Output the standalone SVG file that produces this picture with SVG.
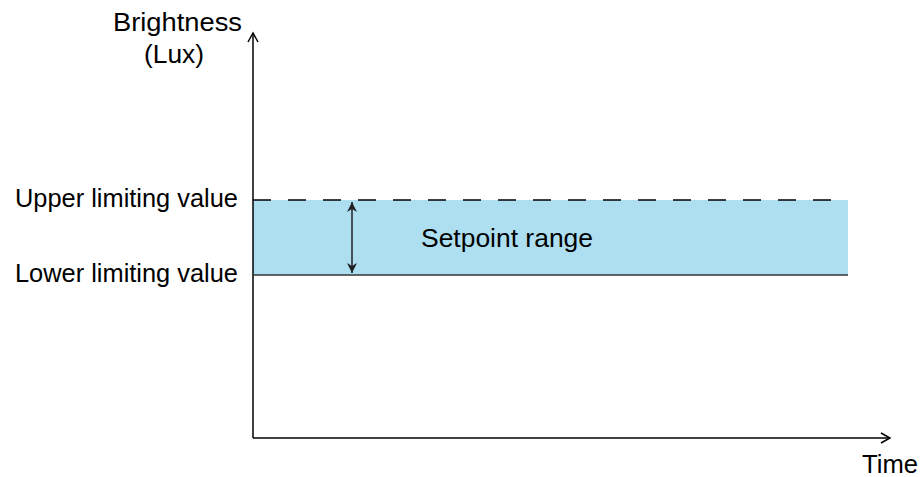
<svg xmlns="http://www.w3.org/2000/svg" width="921" height="477" viewBox="0 0 921 477">
<style>
text{font-family:"Liberation Sans",Arial,sans-serif;font-size:25px;fill:#000}
.ax{stroke:#000;stroke-width:1.5;fill:none}
</style>
<defs>
<marker id="open" markerWidth="12" markerHeight="12" refX="10" refY="6" orient="auto" markerUnits="userSpaceOnUse">
<path d="M1,1 L10,6 L1,11" fill="none" stroke="#000" stroke-width="1.5"/>
</marker>
<marker id="dbl" markerWidth="12" markerHeight="14" refX="10" refY="6" orient="auto-start-reverse" markerUnits="userSpaceOnUse">
<path d="M0,1 L10,6 L0,11 L3,6 Z" fill="#222"/>
</marker>
</defs>
<g id="band">
<rect x="253" y="200" width="595" height="75" fill="#ADDFF1"/>
</g>
<g id="connectors">
<line class="ax" x1="253" y1="438" x2="253" y2="33" marker-end="url(#open)"/>
<line class="ax" x1="253" y1="438" x2="890" y2="438" marker-end="url(#open)"/>
<line x1="253" y1="200" x2="848" y2="200" stroke="#000" stroke-width="1.5" stroke-dasharray="18 17"/>
<line x1="253" y1="275" x2="848" y2="275" stroke="#333" stroke-width="1.5"/>
<line x1="352" y1="202" x2="352" y2="273" stroke="#222" stroke-width="1.5" marker-start="url(#dbl)" marker-end="url(#dbl)"/>
</g>
<g id="labels">
<text x="113" y="31" textLength="129" lengthAdjust="spacingAndGlyphs">Brightness</text>
<text x="144" y="63" textLength="60" lengthAdjust="spacingAndGlyphs">(Lux)</text>
<text x="15" y="207" textLength="223" lengthAdjust="spacingAndGlyphs">Upper limiting value</text>
<text x="15" y="282" textLength="223" lengthAdjust="spacingAndGlyphs">Lower limiting value</text>
<text x="421" y="247" textLength="172" lengthAdjust="spacingAndGlyphs">Setpoint range</text>
<text x="862" y="473" textLength="56" lengthAdjust="spacingAndGlyphs">Time</text>
</g>
</svg>
